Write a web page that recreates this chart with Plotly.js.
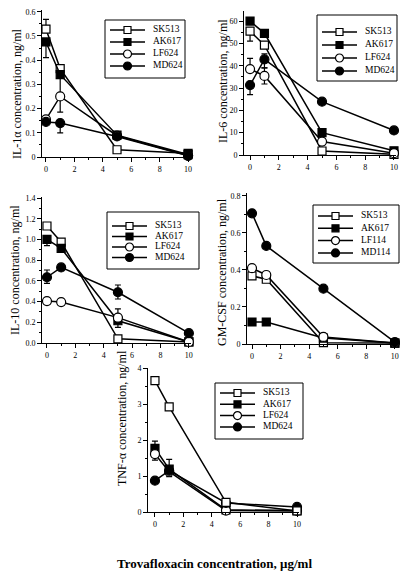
<!DOCTYPE html>
<html>
<head>
<meta charset="utf-8">
<script src="https://cdn.plot.ly/plotly-3.0.1.min.js"></script>
<style>html,body{margin:0;padding:0;background:#fff;}#chart{width:407px;height:574px;}</style>
</head>
<body>
<div id="chart"></div>
<script>
// ---- data ----
const doses = [0, 1, 5, 10];
const donors = ['SK513', 'AK617', 'LF624', 'MD624'];
const gmDonors = ['SK513', 'AK617', 'LF114', 'MD114'];
const xTicks = [0, 2, 4, 6, 8, 10];

// IL-1α (ng/ml)
const il1Values = [
  [0.528, 0.365, 0.03, 0.015],
  [0.475, 0.34, 0.09, 0.01],
  [0.155, 0.25, 0.088, 0.006],
  [0.145, 0.14, 0.085, 0.005]
];
const il1Plus  = [[0.04,0,0,0],[0,0,0,0],[0,0.075,0,0],[0,0,0,0]];
const il1Minus = [[0,0,0,0],[0.065,0,0,0],[0,0.065,0,0],[0,0.04,0,0]];

// IL-6 (ng/ml)
const il6Values = [
  [55.5, 49.2, 1.8, 0.3],
  [60, 54.5, 10, 1.9],
  [38.5, 35.4, 6, 0.8],
  [31.3, 42.8, 23.9, 11]
];
const il6Plus  = [[0,0,0,0],[0,0,0,0],[4.8,3.6,0,0],[0,2.5,0,0]];
const il6Minus = [[4.5,0,0,0],[0,0,0,0],[0,3.6,0,0],[4.3,3.8,0,0]];

// IL-10 (ng/ml)
const il10Values = [
  [1.13, 0.975, 0.04, 0.01],
  [1.0, 0.914, 0.215, 0.01],
  [0.405, 0.395, 0.245, 0.01],
  [0.635, 0.73, 0.49, 0.095]
];
const il10Plus  = [[0,0,0,0],[0,0,0,0],[0,0,0.085,0],[0.07,0,0.07,0]];
const il10Minus = [[0,0,0,0],[0.06,0,0.065,0],[0,0,0,0],[0.06,0,0.065,0]];

// GM-CSF (ng/ml)
const gmValues = [
  [0.368, 0.35, 0.007, 0.005],
  [0.119, 0.119, 0.032, 0.005],
  [0.41, 0.373, 0.038, 0.006],
  [0.706, 0.53, 0.299, 0.01]
];

// TNF-α (ng/ml)
const tnfValues = [
  [3.65, 2.92, 0.27, 0.03],
  [1.77, 1.19, 0.06, 0.04],
  [1.61, 1.12, 0.04, 0.03],
  [0.87, 1.15, 0.25, 0.14]
];
const tnfPlus  = [[0,0,0,0],[0.2,0.27,0,0],[0,0,0,0],[0,0,0,0]];
const tnfMinus = [[0,0,0,0],[0,0.21,0,0],[0.17,0,0,0],[0,0,0,0]];

// ---- styling ----
const FONT = 'Liberation Serif, Times New Roman, serif';
const W = 407, H = 574;
const symbols = ['square', 'square', 'circle', 'circle'];
const fills = ['white', 'black', 'white', 'black'];
const sizes = [8, 8, 9, 9];

function px2x(p) { return p / W; }
function px2y(p) { return 1 - p / H; }

const traces = [];
function markerStyle(i, s) {
  return {symbol: symbols[i], size: s || sizes[i], color: fills[i], line: {color: 'black', width: 1.2}};
}
function addPanel(idx, vals, plus, minus, order) {
  const xa = idx === 1 ? 'x' : 'x' + idx;
  const ya = idx === 1 ? 'y' : 'y' + idx;
  const ord = order || [0, 1, 2, 3];
  ord.forEach(function (i) {
    const t = {
      type: 'scatter', mode: 'lines+markers', showlegend: false,
      x: doses, y: vals[i], xaxis: xa, yaxis: ya, cliponaxis: false,
      line: {color: 'black', width: 1.5},
      marker: markerStyle(i)
    };
    if (plus) {
      t.error_y = {type: 'data', symmetric: false, array: plus[i], arrayminus: minus[i],
                   color: 'black', thickness: 1.2, width: 3};
    }
    traces.push(t);
  });
}
addPanel(1, il1Values, il1Plus, il1Minus);
addPanel(2, il6Values, il6Plus, il6Minus);
addPanel(3, il10Values, il10Plus, il10Minus);
addPanel(4, gmValues, null, null);
addPanel(5, tnfValues, tnfPlus, tnfMinus, [1, 2, 3, 0]);

// ---- key boxes (one small hidden axis pair per panel, units = px inside the box) ----
// [left, top, right, bottom, first row offset, row step]
const keyBoxes = [
  [105, 20, 185, 78, 10, 12],
  [317, 15, 397, 81, 17, 13],
  [107, 212, 199, 269, 14, 10.5],
  [313, 205, 399, 263, 11, 12.3],
  [215, 383, 303, 439, 10, 11.3]
];
const keyNames = [donors, donors, donors, gmDonors, donors];
const shapes = [];
const keyAxes = {};
keyBoxes.forEach(function (b, k) {
  const n = 6 + k;
  const w = b[2] - b[0], h = b[3] - b[1];
  keyAxes['xaxis' + n] = {domain: [px2x(b[0]), px2x(b[2])], range: [0, w], visible: false, fixedrange: true, anchor: 'y' + n};
  keyAxes['yaxis' + n] = {domain: [px2y(b[3]), px2y(b[1])], range: [h, 0], visible: false, fixedrange: true, anchor: 'x' + n};
  shapes.push({type: 'rect', xref: 'paper', yref: 'paper', x0: px2x(b[0]), x1: px2x(b[2]),
               y0: px2y(b[3]), y1: px2y(b[1]), line: {color: 'black', width: 1}, fillcolor: 'white', layer: 'below'});
  keyNames[k].forEach(function (name, i) {
    const ry = b[4] + b[5] * i;
    traces.push({type: 'scatter', mode: 'lines', x: [5, 40], y: [ry, ry], xaxis: 'x' + n, yaxis: 'y' + n,
                 showlegend: false, line: {color: 'black', width: 1.5}, hoverinfo: 'skip'});
    traces.push({type: 'scatter', mode: 'markers+text', x: [22.5], y: [ry], xaxis: 'x' + n, yaxis: 'y' + n,
                 showlegend: false, marker: markerStyle(i, i < 2 ? 7 : 8), hoverinfo: 'skip'});
    traces.push({type: 'scatter', mode: 'text', x: [48], y: [ry], text: [name], textposition: 'middle right',
                 xaxis: 'x' + n, yaxis: 'y' + n, showlegend: false, cliponaxis: false,
                 textfont: {family: FONT, size: 9.5, color: 'black'}, hoverinfo: 'skip'});
  });
});

function xAxis(l, r, anchor, range) {
  return {
    domain: [px2x(l), px2x(r)], anchor: anchor, range: range,
    tickvals: xTicks, ticks: 'outside', ticklen: 4, tickwidth: 1, tickcolor: 'black',
    minor: {dtick: 1, ticks: 'outside', ticklen: 2, tickcolor: 'black'},
    showline: true, linecolor: 'black', linewidth: 1, showgrid: false, zeroline: false,
    tickfont: {family: FONT, size: 8, color: 'black'}, fixedrange: true
  };
}
function yAxis(top, bottom, range, dtick, minor, fmt, anchor) {
  const a = {
    domain: [px2y(bottom), px2y(top)], anchor: anchor, range: range,
    dtick: dtick, tick0: 0, ticks: 'outside', ticklen: 4, tickwidth: 1, tickcolor: 'black',
    minor: {dtick: minor, ticks: 'outside', ticklen: 2, tickcolor: 'black'},
    showline: true, linecolor: 'black', linewidth: 1, showgrid: false, zeroline: false,
    tickfont: {family: FONT, size: 8, color: 'black'}, fixedrange: true
  };
  if (fmt) a.tickformat = fmt;
  return a;
}

function yTitle(text, cx, cy) {
  return {text: text, x: px2x(cx), y: px2y(cy), xref: 'paper', yref: 'paper',
          textangle: -90, showarrow: false, xanchor: 'center', yanchor: 'middle',
          font: {family: FONT, size: 12, color: 'black'}};
}

const layout = Object.assign({
  width: W, height: H, margin: {l: 0, r: 0, t: 0, b: 0},
  paper_bgcolor: 'white', plot_bgcolor: 'rgba(0,0,0,0)', showlegend: false,
  xaxis:  xAxis(42, 190.5, 'y', [-0.28, 10.17]),
  xaxis2: xAxis(244, 396, 'y2', [-0.42, 10.14]),
  xaxis3: xAxis(42, 191, 'y3', [-0.35, 10.15]),
  xaxis4: xAxis(247, 397, 'y4', [-0.35, 10.15]),
  xaxis5: xAxis(148, 299, 'y5', [-0.49, 10.14]),
  yaxis:  yAxis(10, 157, [0, 0.607], 0.1, 0.05, null, 'x'),
  yaxis2: yAxis(11, 155, [0, 64.5], 10, 5, null, 'x2'),
  yaxis3: yAxis(197, 343, [0, 1.41], 0.2, 0.1, '.1f', 'x3'),
  yaxis4: yAxis(193, 344, [0, 0.816], 0.2, 0.1, null, 'x4'),
  yaxis5: yAxis(368, 512, [0, 4], 1, 0.5, null, 'x5'),
  shapes: shapes,
  annotations: [
    yTitle('IL-1α concentration, ng/ml', 17, 94),
    yTitle('IL-6 concentration, ng/ml', 223, 81),
    yTitle('IL-10 concentration, ng/ml', 15, 270),
    yTitle('GM-CSF concentration, ng/ml', 222, 272),
    yTitle('TNF-α concentration, ng/ml', 122, 418),
    {text: '<b>Trovafloxacin concentration, μg/ml</b>', x: px2x(214), y: px2y(563),
     xref: 'paper', yref: 'paper', showarrow: false, xanchor: 'center', yanchor: 'middle',
     font: {family: FONT, size: 13, color: 'black'}}
  ]
}, keyAxes);

Plotly.newPlot('chart', traces, layout, {displayModeBar: false, staticPlot: true});
</script>
</body>
</html>
